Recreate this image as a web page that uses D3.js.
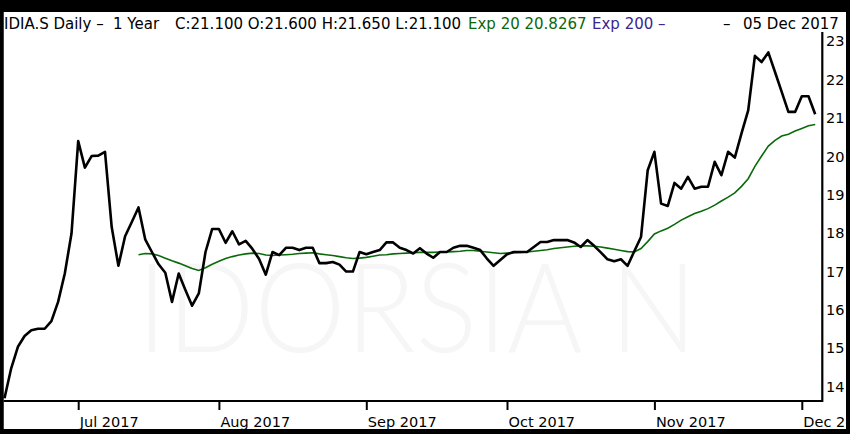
<!DOCTYPE html>
<html><head><meta charset="utf-8">
<script src="https://cdn.jsdelivr.net/npm/d3@7"></script>
<style>html,body{margin:0;padding:0;background:#000;} svg{display:block;}</style>
</head><body><svg id="c" width="850" height="434"></svg>
<script>
// ---- data ----
const firstDay = "2017-06-16";
const lastDay = "2017-12-05";
const holidays = ["2017-08-01"];
const closes = [
  13.70, 14.48, 15.04, 15.32, 15.47, 15.51, 15.51, 15.71, 16.21, 16.95,
  17.99, 20.40, 19.71, 20.01, 20.02, 20.12, 18.16, 17.15, 17.92, 18.29,
  18.67, 17.84, 17.51, 17.19, 16.97, 16.21, 16.95, 16.52, 16.11, 16.43,
  17.51, 18.11, 18.11, 17.75, 18.05, 17.71, 17.80, 17.59, 17.33, 16.92,
  17.51, 17.43, 17.62, 17.62, 17.56, 17.62, 17.62, 17.22, 17.22, 17.25,
  17.18, 17.00, 17.00, 17.51, 17.45, 17.51, 17.56, 17.76, 17.76, 17.62,
  17.56, 17.47, 17.61, 17.47, 17.36, 17.51, 17.51, 17.62, 17.67, 17.67,
  17.62, 17.56, 17.34, 17.15, 17.30, 17.45, 17.51, 17.51, 17.51, 17.64,
  17.77, 17.77, 17.82, 17.82, 17.82, 17.76, 17.64, 17.82, 17.67, 17.50,
  17.32, 17.27, 17.32, 17.15, 17.53, 17.90, 19.64, 20.12, 18.77, 18.71,
  19.31, 19.16, 19.47, 19.16, 19.21, 19.21, 19.86, 19.51, 20.12, 19.97,
  20.60, 21.20, 22.62, 22.46, 22.71, 22.20, 21.68, 21.16, 21.16, 21.57,
  21.57, 21.10
];
const ema20 = [
  null, null, null, null, null, null, null, null, null, null,
  null, null, null, null, null, null, null, null, null, null,
  17.44, 17.47, 17.46, 17.42, 17.35, 17.28, 17.22, 17.15, 17.08, 17.03,
  17.10, 17.19, 17.27, 17.34, 17.39, 17.43, 17.46, 17.48, 17.47, 17.43,
  17.42, 17.43, 17.44, 17.45, 17.47, 17.48, 17.49, 17.46, 17.44, 17.42,
  17.39, 17.36, 17.34, 17.35, 17.37, 17.40, 17.43, 17.44, 17.46, 17.47,
  17.48, 17.49, 17.50, 17.50, 17.50, 17.51, 17.51, 17.52, 17.53, 17.55,
  17.55, 17.53, 17.51, 17.49, 17.47, 17.48, 17.49, 17.50, 17.51, 17.53,
  17.55, 17.57, 17.60, 17.62, 17.64, 17.66, 17.67, 17.67, 17.66, 17.64,
  17.61, 17.58, 17.55, 17.52, 17.51, 17.60, 17.78, 17.98, 18.06, 18.13,
  18.23, 18.34, 18.43, 18.51, 18.57, 18.64, 18.73, 18.84, 18.94, 19.05,
  19.22, 19.42, 19.74, 20.01, 20.27, 20.42, 20.53, 20.58, 20.66, 20.73,
  20.80, 20.83
];
const yTicks = [14, 15, 16, 17, 18, 19, 20, 21, 22, 23];
const headerParts = [
  {text: "IDIA.S Daily \u2013", x: 4, color: "#000"},
  {text: "1 Year", x: 113, color: "#000"},
  {text: "C:21.100 O:21.600 H:21.650 L:21.100", x: 175, color: "#000"},
  {text: "Exp 20 20.8267", x: 468, color: "#0b660b"},
  {text: "Exp 200 \u2013", x: 592, color: "#3b2590"},
  {text: "\u2013", x: 723, color: "#000"},
  {text: "05 Dec 2017", x: 743, color: "#000"}
];
const watermark = "IDORSIA N";

// ---- build ----
const parse = d3.timeParse("%Y-%m-%d"), fmt = d3.timeFormat("%Y-%m-%d");
const days = d3.timeDay.range(parse(firstDay), d3.timeDay.offset(parse(lastDay), 1))
  .filter(d => d.getDay() % 6 !== 0 && !holidays.includes(fmt(d)))
  .map(fmt);
const n = Math.min(days.length, closes.length);
const dates = days.slice(0, n);

const svg = d3.select("#c");
const font = "'DejaVu Sans', Verdana, sans-serif";

svg.append("rect").attr("width", 850).attr("height", 434).attr("fill", "#000");
svg.append("rect").attr("x", 3.5).attr("y", 12).attr("width", 843).attr("height", 417).attr("fill", "#fff");

const x = d3.scalePoint().domain(dates).range([4.5, 815.2]);
const y = d3.scaleLinear().domain([14, 23]).range([386.7, 41.3]);

// watermark
svg.append("text").attr("x", 137).attr("y", 352)
  .attr("font-family", "Lato, 'Open Sans', sans-serif").attr("font-weight", 300)
  .attr("font-size", 125).attr("textLength", 560).attr("lengthAdjust", "spacingAndGlyphs")
  .attr("fill", "#f6f6f6").text(watermark);

// lines
const line = d3.line().defined(d => d[1] != null).x(d => x(d[0])).y(d => y(d[1]));
svg.append("path").datum(dates.map((d, i) => [d, ema20[i]]))
  .attr("d", line).attr("fill", "none").attr("stroke", "#0a6a0a").attr("stroke-width", 1.6);
svg.append("path").datum(dates.map((d, i) => [d, closes[i]]))
  .attr("d", line).attr("fill", "none").attr("stroke", "#000").attr("stroke-width", 2.6)
  .attr("stroke-linejoin", "round");

// frame lines
svg.append("line").attr("x1", 3.5).attr("x2", 823).attr("y1", 401).attr("y2", 401)
  .attr("stroke", "#000").attr("stroke-width", 2);
svg.append("line").attr("x1", 822.3).attr("x2", 822.3).attr("y1", 32).attr("y2", 402)
  .attr("stroke", "#000").attr("stroke-width", 2.2);

// right axis
const ya = svg.append("g").attr("transform", "translate(822,0)")
  .call(d3.axisRight(y).tickValues(yTicks).tickSize(0).tickPadding(4).tickFormat(d3.format("d")));
ya.select(".domain").remove();
ya.selectAll("text").attr("font-family", font).attr("font-size", 14.5).attr("fill", "#000");

// bottom axis
const monthStarts = dates.filter((d, i) => i > 0 && d.slice(0, 7) !== dates[i - 1].slice(0, 7));
const xa = svg.append("g").attr("transform", "translate(0,401)")
  .call(d3.axisBottom(x).tickValues(monthStarts).tickSize(9).tickPadding(6)
    .tickFormat(d => d3.timeFormat("%b %Y")(parse(d))));
xa.select(".domain").remove();
xa.selectAll("line").attr("stroke", "#000").attr("stroke-width", 2);
xa.selectAll("text").attr("font-family", font).attr("font-size", 14.5).attr("fill", "#000")
  .attr("text-anchor", "start").attr("x", 1).attr("dy", 0).attr("y", 26);

// header
svg.append("g").selectAll("text").data(headerParts).join("text")
  .attr("x", d => d.x).attr("y", 29).attr("font-family", font).attr("font-size", 15)
  .attr("fill", d => d.color).text(d => d.text);

// black border on top
svg.append("rect").attr("x", 846).attr("y", 0).attr("width", 4).attr("height", 434).attr("fill", "#000");
svg.append("rect").attr("x", 0).attr("y", 429).attr("width", 850).attr("height", 5).attr("fill", "#000");
svg.append("rect").attr("x", 0).attr("y", 0).attr("width", 3.5).attr("height", 434).attr("fill", "#000");
</script></body></html>
